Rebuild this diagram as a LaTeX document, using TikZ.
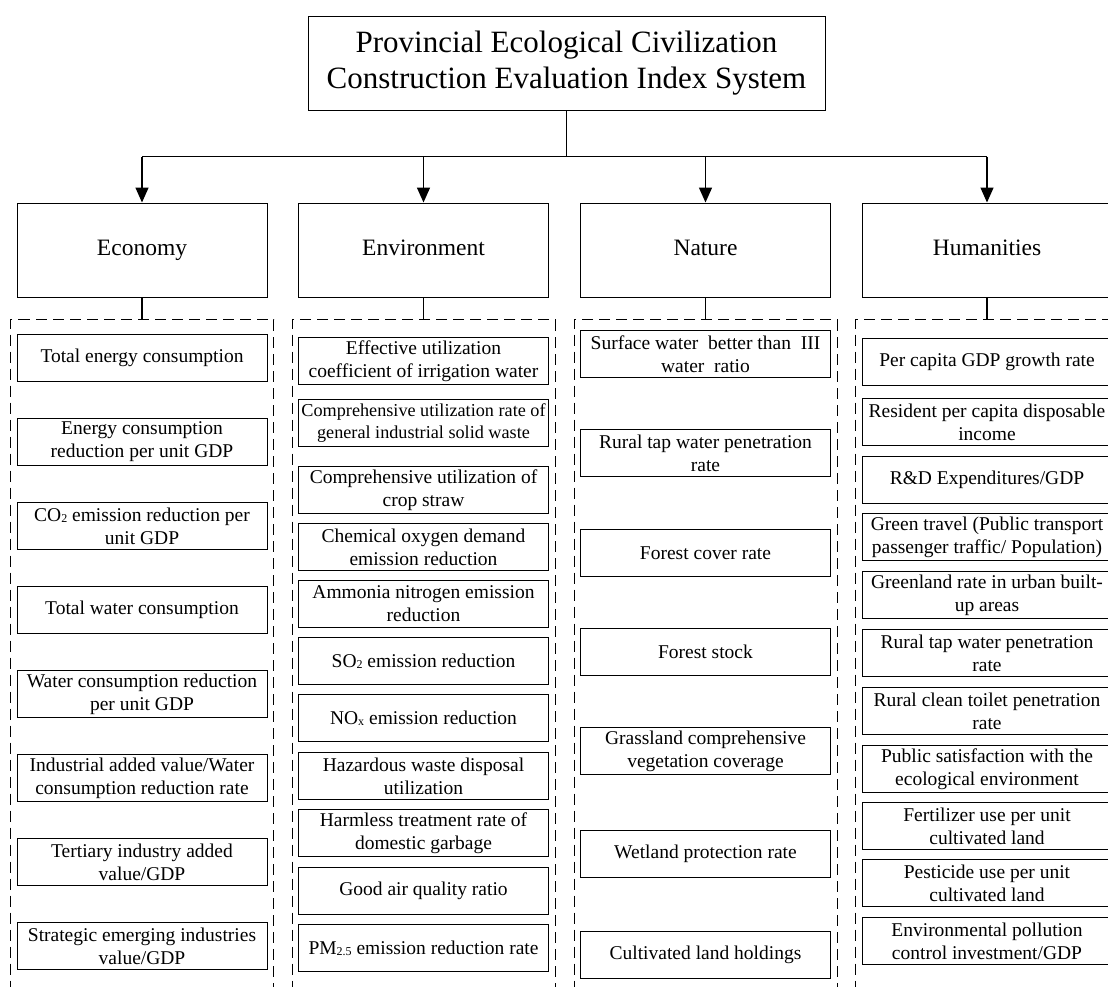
\documentclass[tikz,border=0pt]{standalone}
\usepackage{fontspec}
\setmainfont{Liberation Serif}
\usepackage{tikz}
\usetikzlibrary{arrows.meta,calc,positioning}
\tikzset{
        title/.style = {draw, rectangle, line width=1pt,
            minimum width=517pt, minimum height=94pt,
            align=center, font=\fontsize{31}{36}\selectfont},
        block/.style = {draw, rectangle, line width=1pt,
            minimum width=250pt, minimum height=94pt,
            text height=16pt, text depth=5pt,
            font=\fontsize{23.5}{28}\selectfont},
        item/.style = {draw, rectangle, line width=1pt, anchor=north,
            minimum width=250pt, minimum height=47pt, inner sep=1pt,
            align=center, font=\fontsize{19.5}{23}\selectfont},
        group/.style = {draw, rectangle, line width=1pt, anchor=north,
            dash pattern=on 11pt off 6pt,
            minimum width=263pt, minimum height=700pt},
        line/.style = {draw, line width=1.5pt},
        arrow/.style = {draw, line width=1.5pt, -{Triangle[length=15pt,width=13pt]}},
    }
\newcommand{\lowsub}[1]{\raisebox{-0.15ex}{\fontsize{12}{12}\selectfont #1}}

\begin{document}
\begin{tikzpicture}[x=1pt,y=-1pt]
    \useasboundingbox (0,0) rectangle (1108,986);
    \clip (0,0) rectangle (1108,986);

    \node[title] (sys) at (566.5,63) {Provincial Ecological Civilization\\Construction Evaluation Index System};
    \coordinate (bus) at ($(sys.south) + (0,46)$);

    \node[block] (eco) at (142,250) {Economy};
    \node[block] (env) at (423.5,250) {Environment};
    \node[block] (nat) at (705.5,250) {Nature};
    \node[block] (hum) at (987,250) {Humanities};

    \node[group] (ecoGrp) at (142,319) {};
    \node[group] (envGrp) at (423.5,319) {};
    \node[group] (natGrp) at (705.5,319) {};
    \node[group] (humGrp) at (987,319) {};

    % economy
    \node[item] (eco1) at (142,334) {Total energy consumption};
    \node[item] (eco2) at (142,418) {Energy consumption\\reduction per unit GDP};
    \node[item] (eco3) at (142,502) {CO\lowsub{2} emission reduction per\\unit GDP};
    \node[item] (eco4) at (142,586) {Total water consumption};
    \node[item] (eco5) at (142,670) {Water consumption reduction\\per unit GDP};
    \node[item] (eco6) at (142,754) {Industrial added value/Water\\consumption reduction rate};
    \node[item] (eco7) at (142,838) {Tertiary industry added\\value/GDP};
    \node[item] (eco8) at (142,922) {Strategic emerging industries\\value/GDP};

    % environment
    \node[item] (env1) at (423.5,337) {Effective utilization\\coefficient of irrigation water};
    \node[item, font=\fontsize{18.2}{22}\selectfont] (env2) at (423.5,399) {Comprehensive utilization rate of\\general industrial solid waste};
    \node[item] (env3) at (423.5,466) {Comprehensive utilization of\\crop straw};
    \node[item] (env4) at (423.5,523) {Chemical oxygen demand\\emission reduction};
    \node[item] (env5) at (423.5,580) {Ammonia nitrogen emission\\reduction};
    \node[item] (env6) at (423.5,637) {SO\lowsub{2} emission reduction};
    \node[item] (env7) at (423.5,694) {NO\lowsub{x} emission reduction};
    \node[item] (env8) at (423.5,752) {Hazardous waste disposal\\utilization};
    \node[item] (env9) at (423.5,809) {Harmless treatment rate of\\domestic garbage};
    \node[item] (env10) at (423.5,867) {Good air quality ratio};
    \node[item] (env11) at (423.5,924) {PM\lowsub{2.5} emission reduction rate};

    % nature
    \node[item] (nat1) at (705.5,330) {Surface water\ \ better than\ \ III\\water\ \ ratio};
    \node[item] (nat2) at (705.5,429) {Rural tap water penetration\\rate};
    \node[item] (nat3) at (705.5,529) {Forest cover rate};
    \node[item] (nat4) at (705.5,628) {Forest stock};
    \node[item] (nat5) at (705.5,727) {Grassland comprehensive\\vegetation coverage};
    \node[item] (nat6) at (705.5,830) {Wetland protection rate};
    \node[item] (nat7) at (705.5,931) {Cultivated land holdings};

    % humanities
    \node[item] (hum1) at (987,338) {Per capita GDP growth rate};
    \node[item] (hum2) at (987,398) {Resident per capita disposable\\income};
    \node[item] (hum3) at (987,456) {R\&D Expenditures/GDP};
    \node[item] (hum4) at (987,513) {Green travel (Public transport\\passenger traffic/ Population)};
    \node[item] (hum5) at (987,571) {Greenland rate in urban built-\\up areas};
    \node[item] (hum6) at (987,629) {Rural tap water penetration\\rate};
    \node[item] (hum7) at (987,687) {Rural clean toilet penetration\\rate};
    \node[item] (hum8) at (987,745) {Public satisfaction with the\\ecological environment};
    \node[item] (hum9) at (987,802) {Fertilizer use per unit\\cultivated land};
    \node[item] (hum10) at (987,859) {Pesticide use per unit\\cultivated land};
    \node[item] (hum11) at (987,917) {Environmental pollution\\control investment/GDP};

    \draw[line] (sys.south) -- (bus);
    \draw[line] (eco.north |- bus) -- (hum.north |- bus);
    \draw[arrow] (eco.north |- bus) -- (eco.north);
    \draw[arrow] (env.north |- bus) -- (env.north);
    \draw[arrow] (nat.north |- bus) -- (nat.north);
    \draw[arrow] (hum.north |- bus) -- (hum.north);

    \draw[line] (eco.south) -- (ecoGrp.north);
    \draw[line] (env.south) -- (envGrp.north);
    \draw[line] (nat.south) -- (natGrp.north);
    \draw[line] (hum.south) -- (humGrp.north);
\end{tikzpicture}
\end{document}
